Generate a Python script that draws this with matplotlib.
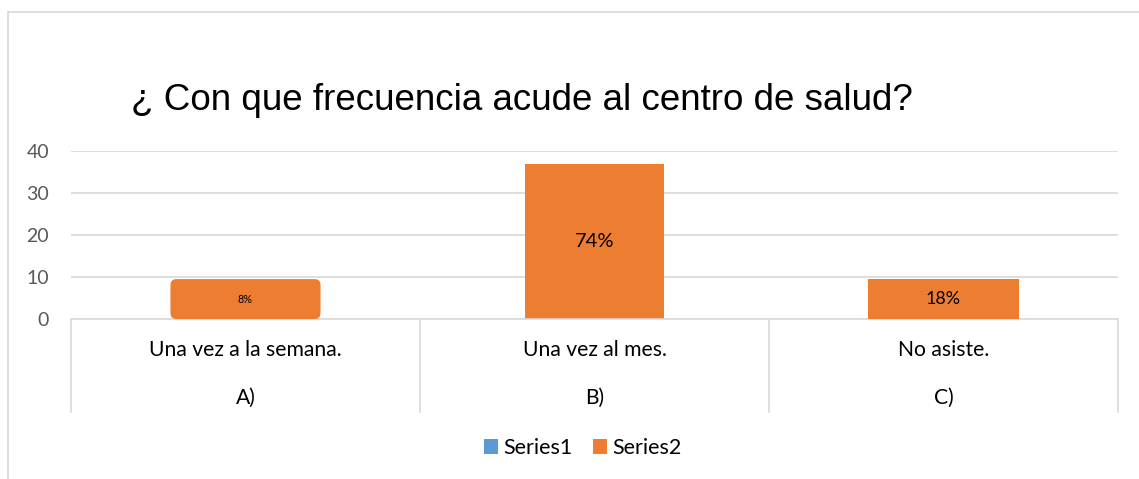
import matplotlib
matplotlib.use("Agg")
import matplotlib.pyplot as plt
from matplotlib.patches import Patch, FancyBboxPatch
from matplotlib.lines import Line2D

# ---- data ----
title = "¿ Con que frecuencia acude al centro de salud?"
categories = ["Una vez a la semana.", "Una vez al mes.", "No asiste."]
groups = ["A)", "B)", "C)"]
series1 = [0, 0, 0]
series2 = [4, 37, 9]
labels2 = ["8%", "74%", "18%"]
series_names = ["Series1", "Series2"]

# ---- style ----
BLUE = "#5B9BD5"
ORANGE = "#ED7D31"
GRID = "#D9D9D9"
TICK = "#595959"
FONT = ["Lato", "DejaVu Sans"]
label_sizes = [7.8, 14.5, 12.9]
label_box = [True, False, True]
label_round = [True, False, False]
box_h = 9.5

W, H = 1139, 479
fig = plt.figure(figsize=(W / 100, H / 100), dpi=100)
ax = fig.add_axes([71 / W, (H - 319) / H, (1118 - 71) / W, (319 - 151) / H])

x = list(range(len(categories)))
ax.bar(x, series1, width=0.4, color=BLUE, zorder=2)
bars = ax.bar(x, series2, width=0.4, bottom=series1, color=ORANGE, zorder=2)

ax.set_xlim(-0.5, len(categories) - 0.5)
ax.set_ylim(0, 40)
ax.set_yticks([0, 10, 20, 30, 40])
ax.yaxis.grid(True, color=GRID, linewidth=1.2, zorder=0)
ax.set_axisbelow(True)
for s in ["left", "right", "top"]:
    ax.spines[s].set_visible(False)
ax.spines["bottom"].set_color(GRID)
ax.spines["bottom"].set_linewidth(1.2)
ax.tick_params(axis="y", length=0, pad=15.8, labelsize=14, labelcolor=TICK)
ax.tick_params(axis="x", length=0, labelbottom=False)
for t in ax.get_yticklabels():
    t.set_fontfamily(FONT)

fig.canvas.draw()
# pixel-per-data ratios for rounded corners
p0 = ax.transData.transform((0, 0))
p1 = ax.transData.transform((1, 1))
px_x = p1[0] - p0[0]
px_y = p1[1] - p0[1]

for i, (b, v, lab) in enumerate(zip(bars, series2, labels2)):
    cx = b.get_x() + b.get_width() / 2
    if label_box[i]:
        yc = max(v / 2, box_h / 2)
        bw = 0.43
        if label_round[i]:
            r = 6 / px_x
            patch = FancyBboxPatch((cx - bw / 2 + r, yc - box_h / 2 + r * px_x / px_y),
                                   bw - 2 * r, box_h - 2 * r * px_x / px_y,
                                   boxstyle=f"round,pad={r},rounding_size={r}",
                                   mutation_aspect=px_x / px_y,
                                   facecolor=ORANGE, edgecolor="none", zorder=3)
        else:
            patch = FancyBboxPatch((cx - bw / 2, yc - box_h / 2), bw, box_h,
                                   boxstyle="square,pad=0", facecolor=ORANGE,
                                   edgecolor="none", zorder=3)
        ax.add_patch(patch)
    else:
        yc = v / 2
    ax.text(cx, yc, lab, ha="center", va="center", fontsize=label_sizes[i],
            color="#000000", family=FONT, zorder=4)

# category "table" below axis
tr = ax.get_xaxis_transform()
y_bot = -(412 - 319) / (319 - 151)
for xb in [i - 0.5 for i in range(len(categories) + 1)]:
    ax.plot([xb, xb], [0, y_bot], transform=tr, color=GRID, lw=1.2, clip_on=False)
for i, (c, g) in enumerate(zip(categories, groups)):
    ax.text(i, -(350 - 319) / (319 - 151), c, transform=tr, ha="center", va="center",
            fontsize=15.2, family=FONT, color="#000000")
    ax.text(i, -(398 - 319) / (319 - 151), g, transform=tr, ha="center", va="center",
            fontsize=15.2, family=FONT, color="#000000")

# title
fig.text(131 / W, (H - 110) / H, title, ha="left", va="baseline",
         fontsize=26.5, family=["Liberation Sans", "DejaVu Sans"], color="#000000")

# outer chart border
fig.add_artist(Line2D([8 / W, 1], [(H - 12) / H, (H - 12) / H], transform=fig.transFigure,
                      color=GRID, lw=1.2))
fig.add_artist(Line2D([8 / W, 8 / W], [0, (H - 12) / H], transform=fig.transFigure,
                      color=GRID, lw=1.2))

# legend
handles = [Patch(facecolor=BLUE, edgecolor="none"), Patch(facecolor=ORANGE, edgecolor="none")]
fig.legend(handles, series_names, loc="center", bbox_to_anchor=(583 / W, (H - 448) / H),
           ncol=2, frameon=False, prop={"family": FONT, "size": 15.5},
           handlelength=0.64, handleheight=0.64, handletextpad=0.25, columnspacing=0.95,
           borderpad=0, borderaxespad=0)

fig.savefig("out.png", dpi=100)
